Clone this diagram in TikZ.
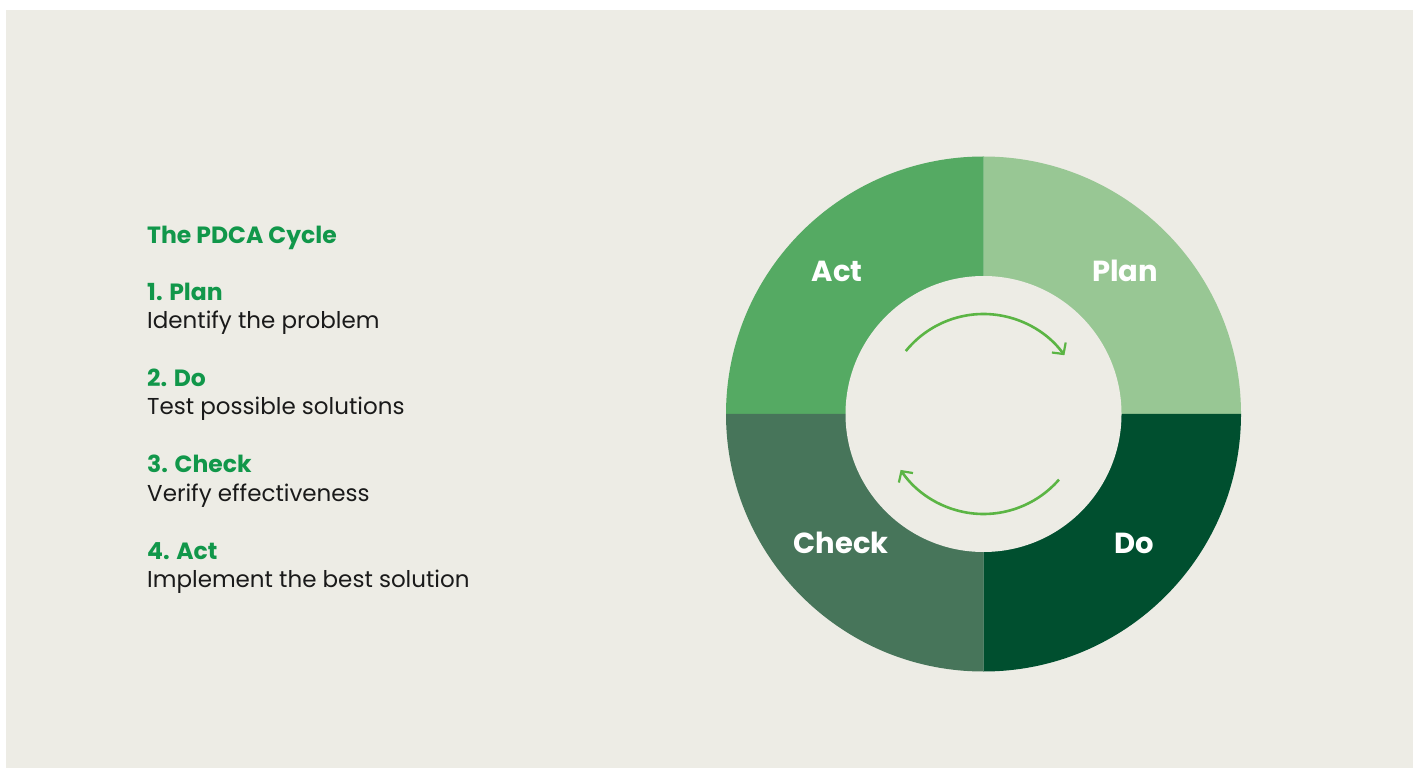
\documentclass[tikz,border=0pt]{standalone}
\usepackage{fontspec}
\setmainfont{Poppins}
\usetikzlibrary{arrows.meta}
\definecolor{bg}{HTML}{EDECE5}
\definecolor{head}{HTML}{11974A}
\definecolor{bodytxt}{HTML}{1A1A1A}
\definecolor{plancol}{HTML}{98C794}
\definecolor{actcol}{HTML}{55AA63}
\definecolor{checkcol}{HTML}{47755A}
\definecolor{docol}{HTML}{004F2F}
\definecolor{arrowcol}{HTML}{5BB544}
\tikzset{
  headtxt/.style={anchor=base west, inner sep=0pt, text=head, font=\fontsize{23.5}{27}\selectfont\bfseries},
  bodytext/.style={anchor=base west, inner sep=0pt, text=bodytxt, font=\fontsize{23}{27}\selectfont},
  ringlabel/.style={anchor=base, inner sep=0pt, text=white, font=\fontsize{29}{33}\selectfont\bfseries},
  cyclearrow/.style={draw=arrowcol, line width=2.6pt, -{Straight Barb[length=8pt,width=17pt,line width=2.2pt]}},
}
\begin{document}
\begin{tikzpicture}[x=1pt,y=1pt]
\useasboundingbox (0,0) rectangle (1418,769);
\fill[white] (0,0) rectangle (1418,769);
\fill[bg] (6,1) rectangle (1413,759);
\coordinate (C) at (983.5,355);
% ring quadrants
\fill[plancol] (C) -- ++(0:257.5) arc[start angle=0,end angle=90,radius=257.5] -- cycle;
\fill[actcol] (C) -- ++(90:257.5) arc[start angle=90,end angle=180,radius=257.5] -- cycle;
\fill[checkcol] (C) -- ++(180:257.5) arc[start angle=180,end angle=270,radius=257.5] -- cycle;
\fill[docol] (C) -- ++(270:257.5) arc[start angle=270,end angle=360,radius=257.5] -- cycle;
\fill[bg] (C) circle[radius=138];
% cycle arrows
\draw[cyclearrow] (C) ++(141:100) arc[start angle=141,end angle=36,radius=100];
\draw[cyclearrow] (C) ++(-41:100) arc[start angle=-41,end angle=-146,radius=100];
% ring labels
\node[ringlabel] (lact) at (837,487) {Act};
\node[ringlabel] (lplan) at (1125,487) {Plan};
\node[ringlabel] (lcheck) at (841,216) {Check};
\node[ringlabel] (ldo) at (1134,216) {Do};
% left text
\node[headtxt] (title) at (147,525) {The PDCA Cycle};
\node[headtxt] (h1) at (147,468) {1. Plan};
\node[bodytext] (b1) at (147,440) {Identify the problem};
\node[headtxt] (h2) at (147,382) {2. Do};
\node[bodytext] (b2) at (147,354) {Test possible solutions};
\node[headtxt] (h3) at (147,296) {3. Check};
\node[bodytext] (b3) at (147,268) {Verify effectiveness};
\node[headtxt] (h4) at (147,210) {4. Act};
\node[bodytext] (b4) at (147,182) {Implement the best solution};
\end{tikzpicture}
\end{document}
